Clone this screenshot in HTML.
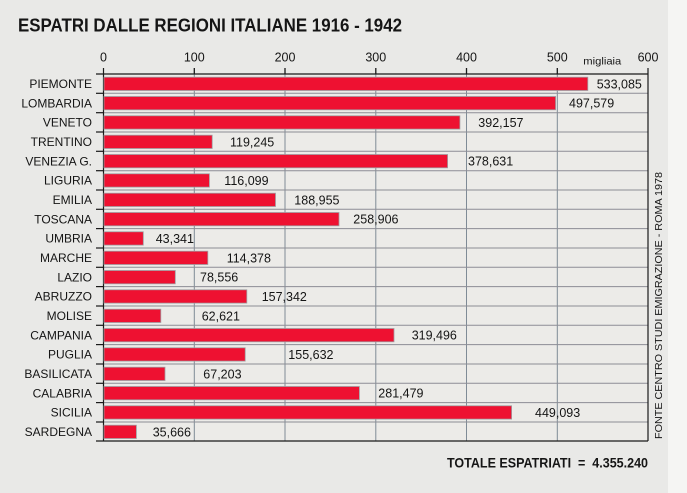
<!DOCTYPE html>
<html><head><meta charset="utf-8"><style>
html,body{margin:0;padding:0;background:#eaeae8;}
svg{display:block;}
text{font-family:"Liberation Sans",sans-serif;fill:#151515;}
</style></head><body>
<svg width="687" height="493" viewBox="0 0 687 493" xmlns="http://www.w3.org/2000/svg">
<rect x="0" y="0" width="687" height="493" fill="#e9e9e7"/>
<rect x="668" y="0" width="19" height="493" fill="#f5f5f3"/>
<rect x="104" y="74" width="544" height="367" fill="#ecebe8"/>
<text x="18" y="31.5" font-size="18" font-weight="bold" textLength="384" lengthAdjust="spacingAndGlyphs">ESPATRI DALLE REGIONI ITALIANE 1916 - 1942</text>
<g font-size="12.5" text-anchor="middle">
<text x="103.5" y="61.5">0</text>
<text x="194.3" y="61.5">100</text>
<text x="285" y="61.5">200</text>
<text x="375.8" y="61.5">300</text>
<text x="466.5" y="61.5">400</text>
<text x="557.3" y="61.5">500</text>
<text x="648" y="61.5">600</text>
</g>
<text x="583.3" y="64.5" font-size="10.5" textLength="38" lengthAdjust="spacingAndGlyphs">migliaia</text>
<g stroke="#7f8b96" stroke-width="1">
<line x1="194.3" y1="74" x2="194.3" y2="441"/>
<line x1="285" y1="74" x2="285" y2="441"/>
<line x1="375.8" y1="74" x2="375.8" y2="441"/>
<line x1="466.5" y1="74" x2="466.5" y2="441"/>
<line x1="557.3" y1="74" x2="557.3" y2="441"/>
</g>
<g stroke="#1a1a1a" stroke-width="1.3">
<line x1="194.3" y1="68" x2="194.3" y2="74"/>
<line x1="285" y1="68" x2="285" y2="74"/>
<line x1="375.8" y1="68" x2="375.8" y2="74"/>
<line x1="466.5" y1="68" x2="466.5" y2="74"/>
<line x1="557.3" y1="68" x2="557.3" y2="74"/>
</g>
<g stroke="#8d8d95" stroke-width="1">
<line x1="104" y1="93.3" x2="648" y2="93.3"/>
<line x1="104" y1="112.7" x2="648" y2="112.7"/>
<line x1="104" y1="132" x2="648" y2="132"/>
<line x1="104" y1="151.3" x2="648" y2="151.3"/>
<line x1="104" y1="170.7" x2="648" y2="170.7"/>
<line x1="104" y1="190" x2="648" y2="190"/>
<line x1="104" y1="209.3" x2="648" y2="209.3"/>
<line x1="104" y1="228.6" x2="648" y2="228.6"/>
<line x1="104" y1="248" x2="648" y2="248"/>
<line x1="104" y1="267.3" x2="648" y2="267.3"/>
<line x1="104" y1="286.6" x2="648" y2="286.6"/>
<line x1="104" y1="306" x2="648" y2="306"/>
<line x1="104" y1="325.3" x2="648" y2="325.3"/>
<line x1="104" y1="344.6" x2="648" y2="344.6"/>
<line x1="104" y1="364" x2="648" y2="364"/>
<line x1="104" y1="383.3" x2="648" y2="383.3"/>
<line x1="104" y1="402.6" x2="648" y2="402.6"/>
<line x1="104" y1="422" x2="648" y2="422"/>
</g>
<g stroke="#1a1a1a" stroke-width="1.2">
<line x1="96" y1="93.3" x2="103.5" y2="93.3"/>
<line x1="96" y1="112.7" x2="103.5" y2="112.7"/>
<line x1="96" y1="132" x2="103.5" y2="132"/>
<line x1="96" y1="151.3" x2="103.5" y2="151.3"/>
<line x1="96" y1="170.7" x2="103.5" y2="170.7"/>
<line x1="96" y1="190" x2="103.5" y2="190"/>
<line x1="96" y1="209.3" x2="103.5" y2="209.3"/>
<line x1="96" y1="228.6" x2="103.5" y2="228.6"/>
<line x1="96" y1="248" x2="103.5" y2="248"/>
<line x1="96" y1="267.3" x2="103.5" y2="267.3"/>
<line x1="96" y1="286.6" x2="103.5" y2="286.6"/>
<line x1="96" y1="306" x2="103.5" y2="306"/>
<line x1="96" y1="325.3" x2="103.5" y2="325.3"/>
<line x1="96" y1="344.6" x2="103.5" y2="344.6"/>
<line x1="96" y1="364" x2="103.5" y2="364"/>
<line x1="96" y1="383.3" x2="103.5" y2="383.3"/>
<line x1="96" y1="402.6" x2="103.5" y2="402.6"/>
<line x1="96" y1="422" x2="103.5" y2="422"/>
<line x1="96" y1="74" x2="648" y2="74"/>
<line x1="96" y1="441" x2="648" y2="441"/>
<line x1="103.5" y1="68" x2="103.5" y2="441"/>
<line x1="648" y1="68" x2="648" y2="441"/>
</g>
<g fill="#ee1131" stroke="#a09ca0" stroke-width="0.8">
<rect x="104" y="77.2" width="483.8" height="13.3"/>
<rect x="104" y="96.5" width="451.6" height="13.3"/>
<rect x="104" y="115.8" width="355.9" height="13.3"/>
<rect x="104" y="135.2" width="108.2" height="13.3"/>
<rect x="104" y="154.5" width="343.6" height="13.3"/>
<rect x="104" y="173.8" width="105.4" height="13.3"/>
<rect x="104" y="193.2" width="171.5" height="13.3"/>
<rect x="104" y="212.5" width="235" height="13.3"/>
<rect x="104" y="231.8" width="39.3" height="13.3"/>
<rect x="104" y="251.2" width="103.8" height="13.3"/>
<rect x="104" y="270.5" width="71.3" height="13.3"/>
<rect x="104" y="289.8" width="142.8" height="13.3"/>
<rect x="104" y="309.2" width="56.8" height="13.3"/>
<rect x="104" y="328.5" width="290" height="13.3"/>
<rect x="104" y="347.8" width="141.2" height="13.3"/>
<rect x="104" y="367.2" width="61" height="13.3"/>
<rect x="104" y="386.5" width="255.4" height="13.3"/>
<rect x="104" y="405.8" width="407.6" height="13.3"/>
<rect x="104" y="425.2" width="32.4" height="13.3"/>
</g>
<g font-size="12" text-anchor="end">
<text x="92" y="88">PIEMONTE</text>
<text x="92" y="107.3">LOMBARDIA</text>
<text x="92" y="126.7">VENETO</text>
<text x="92" y="146">TRENTINO</text>
<text x="92" y="165.3">VENEZIA G.</text>
<text x="92" y="184.7">LIGURIA</text>
<text x="92" y="204">EMILIA</text>
<text x="92" y="223.3">TOSCANA</text>
<text x="92" y="242.6">UMBRIA</text>
<text x="92" y="262">MARCHE</text>
<text x="92" y="281.3">LAZIO</text>
<text x="92" y="300.6">ABRUZZO</text>
<text x="92" y="320">MOLISE</text>
<text x="92" y="339.3">CAMPANIA</text>
<text x="92" y="358.6">PUGLIA</text>
<text x="92" y="378">BASILICATA</text>
<text x="92" y="397.3">CALABRIA</text>
<text x="92" y="416.6">SICILIA</text>
<text x="92" y="436">SARDEGNA</text>
</g>
<g font-size="12.5">
<text x="596.7" y="88.3">533,085</text>
<text x="569" y="107.6">497,579</text>
<text x="478.3" y="127">392,157</text>
<text x="230" y="146.3">119,245</text>
<text x="468" y="165.6">378,631</text>
<text x="224.3" y="185">116,099</text>
<text x="294.3" y="204.3">188,955</text>
<text x="353.3" y="223.6">258,906</text>
<text x="155.7" y="243">43,341</text>
<text x="226.7" y="262.3">114,378</text>
<text x="200" y="281.6">78,556</text>
<text x="261.7" y="301">157,342</text>
<text x="201.7" y="320.3">62,621</text>
<text x="411.7" y="339.6">319,496</text>
<text x="288.3" y="359">155,632</text>
<text x="203.3" y="378.3">67,203</text>
<text x="378.3" y="397.6">281,479</text>
<text x="535" y="417">449,093</text>
<text x="152.7" y="436.3">35,666</text>
</g>
<text transform="translate(662,439) rotate(-90)" x="0" y="0" font-size="10" textLength="267" lengthAdjust="spacingAndGlyphs">FONTE CENTRO STUDI EMIGRAZIONE - ROMA 1978</text>
<text x="447" y="467.3" font-size="14" font-weight="bold" textLength="201" lengthAdjust="spacingAndGlyphs" xml:space="preserve">TOTALE ESPATRIATI  =  4.355.240</text>
</svg>
</body></html>
